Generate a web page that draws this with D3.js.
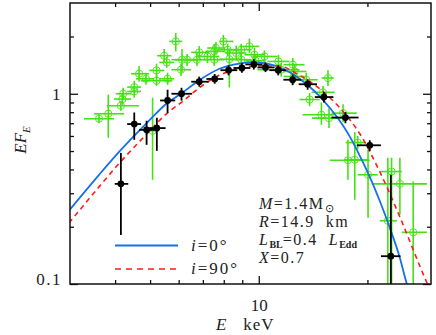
<!DOCTYPE html>
<html>
<head>
<meta charset="utf-8">
<script src="https://cdn.jsdelivr.net/npm/d3@7"></script>
<style>
  body { margin: 0; background: #fff; }
  svg { display: block; }
  text { font-family: "Liberation Serif", "Times New Roman", serif; fill: #222; }
</style>
</head>
<body>
<svg id="chart" width="436" height="335"></svg>
<script>
// black points (E keV, E F_E)
var blackE   = [4.15, 4.52, 4.89, 5.22, 5.59, 6.11, 6.84, 7.55, 8.25, 8.98, 9.69, 10.44, 11.32, 12.41, 13.66, 15.15, 17.38, 20.30, 23.22];
var blackF   = [0.336, 0.693, 0.646, 0.660, 0.922, 1.00, 1.157, 1.196, 1.33, 1.366, 1.427, 1.375, 1.33, 1.185, 1.122, 0.961, 0.750, 0.536, 0.140];
var blackElo = [3.99, 4.32, 4.66, 4.97, 5.33, 5.73, 6.50, 7.16, 7.83, 8.51, 9.18, 9.92, 10.7, 11.7, 12.9, 14.3, 15.9, 18.7, 21.8];
var blackEhi = [4.35, 4.72, 5.13, 5.52, 5.87, 6.54, 7.26, 7.98, 8.72, 9.48, 10.24, 11.06, 11.9, 13.1, 14.5, 16.1, 18.9, 21.8, 24.7];
var blackFlo = [0.181, 0.573, 0.539, 0.501, 0.794, 0.92, 1.09, 1.13, 1.25, 1.29, 1.34, 1.30, 1.25, 1.11, 1.05, 0.90, 0.70, 0.50, 0.09];
var blackFhi = [0.489, 0.797, 0.721, 0.748, 1.05, 1.075, 1.23, 1.27, 1.41, 1.45, 1.52, 1.46, 1.41, 1.26, 1.19, 1.02, 0.80, 0.57, 0.375];

// green points
var greenE   = [3.61, 3.83, 4.15, 4.19, 4.21, 4.52, 4.52, 4.66, 4.87, 5.21, 5.21, 5.59, 5.47, 5.56, 5.89, 6.09, 6.13, 6.33, 6.74, 6.84, 7.21, 7.53, 7.61, 7.53, 7.98, 8.20, 8.29, 8.66, 8.94, 8.94, 9.42, 9.73, 5.08, 10.37, 9.79, 11.34, 11.54, 12.43, 12.57, 12.51, 13.54, 15.55, 15.06, 13.83, 14.91, 15.65, 17.12, 17.66, 18.45, 18.80, 20.08, 23.33, 24.60, 22.78, 26.78];
var greenF   = [0.739, 0.785, 0.865, 0.938, 1.0, 1.028, 1.084, 1.274, 1.199, 1.326, 1.171, 1.199, 1.585, 1.461, 1.885, 1.338, 1.510, 1.510, 1.510, 1.650, 1.571, 1.670, 1.740, 1.510, 1.885, 1.704, 1.52, 1.638, 1.510, 1.704, 1.774, 1.604, 0.639, 1.571, 1.492, 1.479, 1.338, 1.421, 1.31, 1.233, 1.185, 1.21, 1.018, 0.933, 0.775, 0.745, 0.791, 0.447, 0.450, 0.554, 0.375, 0.390, 0.336, 0.215, 0.187];
var greenElo = [3.28, 3.50, 3.80, 3.97, 4.02, 4.32, 4.32, 4.43, 4.57, 4.97, 4.72, 5.30, 5.23, 5.30, 5.65, 5.73, 5.73, 5.87, 6.34, 6.50, 6.75, 7.11, 7.20, 7.07, 7.78, 7.68, 7.78, 8.08, 8.34, 8.40, 8.84, 9.13, 4.91, 9.60, 9.18, 10.57, 9.92, 11.71, 11.71, 11.71, 12.65, 14.92, 14.01, 12.97, 13.22, 14.05, 15.90, 15.72, 17.31, 17.40, 18.80, 21.64, 20.70, 21.64, 24.91];
var greenEhi = [3.97, 4.24, 4.66, 4.43, 4.43, 4.72, 4.72, 4.97, 5.13, 5.47, 5.76, 5.83, 5.73, 5.83, 6.14, 6.50, 6.84, 6.71, 7.20, 7.30, 7.78, 8.08, 8.08, 8.03, 8.51, 8.84, 8.95, 9.24, 9.54, 9.54, 10.04, 10.37, 5.30, 11.27, 10.44, 12.17, 12.97, 13.39, 13.55, 13.39, 14.56, 16.12, 16.23, 14.75, 16.23, 17.31, 18.68, 20.30, 20.08, 19.79, 21.37, 24.91, 29.23, 24.13, 29.23];
var greenFlo = [0.70, 0.587, 0.814, 0.875, 0.93, 0.953, 1.012, 1.157, 1.115, 1.22, 1.10, 1.115, 1.47, 1.37, 1.67, 1.24, 1.30, 1.40, 1.40, 1.53, 1.45, 1.52, 1.62, 1.40, 1.75, 1.58, 1.08, 1.50, 1.40, 1.58, 1.64, 1.48, 0.353, 1.45, 1.37, 1.37, 1.23, 1.30, 1.21, 1.13, 1.10, 1.10, 0.94, 0.86, 0.687, 0.66, 0.71, 0.353, 0.277, 0.51, 0.223, 0.09, 0.231, 0.09, 0.09];
var greenFhi = [0.78, 0.99, 0.919, 1.0, 1.075, 1.10, 1.171, 1.40, 1.29, 1.44, 1.26, 1.29, 1.72, 1.56, 2.09, 1.44, 1.72, 1.62, 1.64, 1.78, 1.69, 1.83, 1.87, 1.62, 2.04, 1.83, 1.73, 1.79, 1.62, 1.83, 1.95, 1.74, 0.953, 1.69, 1.61, 1.60, 1.45, 1.54, 1.42, 1.34, 1.29, 1.33, 1.10, 1.01, 0.90, 0.84, 0.88, 0.573, 0.63, 0.60, 0.507, 0.461, 0.461, 0.461, 0.346];

// model curves, i=0 and i=90
var curve0E  = [2.98, 3.61, 4.15, 4.87, 5.59, 6.11, 6.84, 7.78, 8.84, 9.73, 10.7, 11.42, 12.17, 12.97, 13.83, 14.75, 15.72, 16.76, 17.86, 19.05, 20.30, 21.64, 23.08, 24.60, 25.72, 26.5];
var curve0F  = [0.243, 0.375, 0.507, 0.695, 0.897, 1.006, 1.178, 1.354, 1.442, 1.465, 1.43, 1.379, 1.298, 1.199, 1.088, 0.970, 0.844, 0.721, 0.597, 0.472, 0.366, 0.273, 0.197, 0.137, 0.1, 0.085];
var curve90E = [2.98, 3.61, 4.15, 4.87, 5.59, 6.11, 6.84, 7.78, 8.84, 10.04, 11.42, 12.97, 14.75, 16.76, 19.05, 21.64, 24.60, 27.95, 29.8];
var curve90F = [0.209, 0.324, 0.441, 0.608, 0.794, 0.902, 1.075, 1.251, 1.357, 1.404, 1.395, 1.251, 1.062, 0.844, 0.616, 0.389, 0.225, 0.124, 0.093];

var xMinor = [4, 5, 6, 7, 8, 9, 20];
var yMinor = [0.2, 0.3, 0.4, 0.5, 0.6, 0.7, 0.8, 0.9, 2];

var green = "#44e214", blue = "#1670e8", red = "#ff1a1a";

var svg = d3.select("#chart");
var x = d3.scaleLog().domain([3, 30]).range([70, 431]);
var y = d3.scaleLog().domain([0.1, 3]).range([284, 3]);

svg.append("defs").append("clipPath").attr("id", "plotclip")
  .append("rect").attr("x", 70).attr("y", 3).attr("width", 361).attr("height", 281);

function ticks(axis, tx, ty, major, minor, fmt, pad) {
  var sc = (axis === d3.axisBottom || axis === d3.axisTop) ? x : y;
  var g1 = svg.append("g").attr("transform", "translate(" + tx + "," + ty + ")")
    .call(axis(sc).tickValues(major).tickSize(-8).tickPadding(pad).tickFormat(fmt));
  var g2 = svg.append("g").attr("transform", "translate(" + tx + "," + ty + ")")
    .call(axis(sc).tickValues(minor).tickSize(-4).tickFormat(""));
  [g1, g2].forEach(function (g) {
    g.select(".domain").remove();
    g.selectAll("line").attr("stroke", "#111").attr("stroke-width", 1.3);
    g.selectAll("text").style("font-size", "17px").attr("fill", "#222")
      .style("font-family", "'Liberation Serif', serif");
  });
  return g1;
}

ticks(d3.axisBottom, 0, 284, [10], xMinor, function (d) { return d; }, 15);
ticks(d3.axisTop, 0, 3, [10], xMinor, function () { return ""; }, 3);
var gl = ticks(d3.axisLeft, 70, 0, [0.1, 1], yMinor, function (d) { return d === 1 ? "1" : "0.1"; }, 8);
ticks(d3.axisRight, 431, 0, [0.1, 1], yMinor, function () { return ""; }, 3);
gl.selectAll("text").filter(function (d) { return d === 0.1; }).attr("dy", "0");
gl.selectAll("text").style("letter-spacing", "1.5px");

// green data
var gG = svg.append("g").attr("clip-path", "url(#plotclip)");
var gi = d3.range(greenE.length);
gG.selectAll("line.gh").data(gi).enter().append("line")
  .attr("x1", function (i) { return x(greenElo[i]); })
  .attr("x2", function (i) { return x(greenEhi[i]); })
  .attr("y1", function (i) { return y(greenF[i]); })
  .attr("y2", function (i) { return y(greenF[i]); })
  .attr("stroke", green).attr("stroke-width", 1.6);
gG.selectAll("line.gv").data(gi).enter().append("line")
  .attr("x1", function (i) { return x(greenE[i]); })
  .attr("x2", function (i) { return x(greenE[i]); })
  .attr("y1", function (i) { return y(greenFlo[i]); })
  .attr("y2", function (i) { return y(greenFhi[i]); })
  .attr("stroke", green).attr("stroke-width", 1.6);
gG.selectAll("circle").data(gi).enter().append("circle")
  .attr("cx", function (i) { return x(greenE[i]); })
  .attr("cy", function (i) { return y(greenF[i]); })
  .attr("r", 3.6).attr("fill", "none").attr("stroke", green).attr("stroke-width", 0.9);

// model curves
var line = d3.line().x(function (d) { return x(d[0]); }).y(function (d) { return y(d[1]); })
  .curve(d3.curveMonotoneX);
var gc = svg.append("g").attr("clip-path", "url(#plotclip)");
gc.append("path").attr("d", line(d3.zip(curve0E, curve0F)))
  .attr("fill", "none").attr("stroke", blue).attr("stroke-width", 1.8);
gc.append("path").attr("d", line(d3.zip(curve90E, curve90F)))
  .attr("fill", "none").attr("stroke", red).attr("stroke-width", 1.6).attr("stroke-dasharray", "5,4");

// black data
var gk = svg.append("g").attr("clip-path", "url(#plotclip)");
var bi = d3.range(blackE.length);
gk.selectAll("line.bh").data(bi).enter().append("line")
  .attr("x1", function (i) { return x(blackElo[i]); })
  .attr("x2", function (i) { return x(blackEhi[i]); })
  .attr("y1", function (i) { return y(blackF[i]); })
  .attr("y2", function (i) { return y(blackF[i]); })
  .attr("stroke", "#000").attr("stroke-width", 1.8);
gk.selectAll("line.bv").data(bi).enter().append("line")
  .attr("x1", function (i) { return x(blackE[i]); })
  .attr("x2", function (i) { return x(blackE[i]); })
  .attr("y1", function (i) { return y(blackFlo[i]); })
  .attr("y2", function (i) { return y(blackFhi[i]); })
  .attr("stroke", "#000").attr("stroke-width", 1.8);
gk.selectAll("circle").data(bi).enter().append("circle")
  .attr("cx", function (i) { return x(blackE[i]); })
  .attr("cy", function (i) { return y(blackF[i]); })
  .attr("r", 3.4).attr("fill", "#000");

// frame
svg.append("rect").attr("x", 70).attr("y", 3).attr("width", 361).attr("height", 281)
  .attr("fill", "none").attr("stroke", "#111").attr("stroke-width", 1.5);

// legend
svg.append("line").attr("x1", 115).attr("x2", 178).attr("y1", 245.5).attr("y2", 245.5)
  .attr("stroke", blue).attr("stroke-width", 1.8);
svg.append("line").attr("x1", 115).attr("x2", 178).attr("y1", 269).attr("y2", 269)
  .attr("stroke", red).attr("stroke-width", 1.6).attr("stroke-dasharray", "6,5");
function legendText(ty, val) {
  var t = svg.append("text").attr("x", 191).attr("y", ty).style("font-size", "17px").style("letter-spacing", "2px");
  t.append("tspan").style("font-style", "italic").text("i");
  t.append("tspan").text("=" + val + "°");
}
legendText(250.5, "0");
legendText(273.5, "90");

// annotation
var ann = svg.append("g").style("font-size", "16px").style("letter-spacing", "1.5px");
var t1 = ann.append("text").attr("x", 259).attr("y", 208.5);
t1.append("tspan").style("font-style", "italic").text("M");
t1.append("tspan").text("=1.4M");
t1.append("tspan").attr("dy", 3).style("font-size", "11px").text("⊙");
var t2 = ann.append("text").attr("x", 259).attr("y", 226.7).attr("xml:space", "preserve");
t2.append("tspan").style("font-style", "italic").text("R");
t2.append("tspan").text("=14.9  km");
var t3 = ann.append("text").attr("x", 259).attr("y", 244.5).attr("xml:space", "preserve");
t3.append("tspan").style("font-style", "italic").text("L");
t3.append("tspan").attr("dy", 3).style("font-size", "10px").style("font-weight", "bold").style("letter-spacing", "0px").text("BL");
t3.append("tspan").attr("dy", -3).text("=0.4  ");
t3.append("tspan").style("font-style", "italic").text("L");
t3.append("tspan").attr("dy", 3).style("font-size", "10px").style("font-weight", "bold").style("letter-spacing", "0px").text("Edd");
var t4 = ann.append("text").attr("x", 259).attr("y", 262.7);
t4.append("tspan").style("font-style", "italic").text("X");
t4.append("tspan").text("=0.7");

// axis titles
var xt = svg.append("text").attr("x", 216).attr("y", 330).style("font-size", "17px")
  .attr("xml:space", "preserve").style("letter-spacing", "1px");
xt.append("tspan").style("font-style", "italic").text("E");
xt.append("tspan").text("   keV");

var yt = svg.append("text").attr("transform", "translate(26,140) rotate(-90)")
  .attr("text-anchor", "middle").style("font-size", "17px");
yt.append("tspan").style("font-style", "italic").text("EF");
yt.append("tspan").attr("dy", 4).style("font-size", "11px").style("font-style", "italic").text("E");
</script>
</body>
</html>
